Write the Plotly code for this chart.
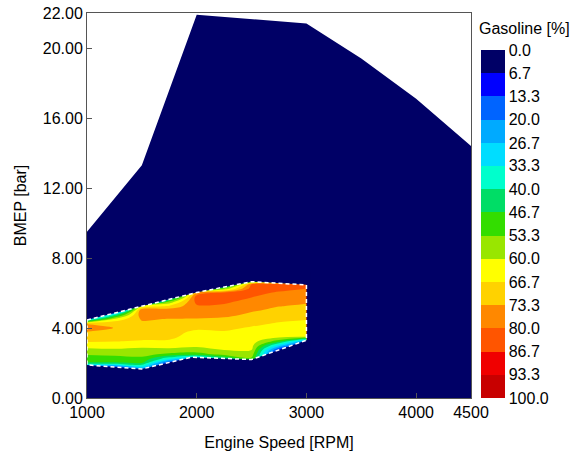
import plotly.graph_objects as go

# ---------------- data ----------------
# full-load (maximum BMEP) curve
fl_rpm = [1000, 1500, 2000, 3000, 3500, 4000, 4500]
fl_bmep = [9.5, 13.3, 21.9, 21.4, 19.4, 17.1, 14.4]

# measured dual-fuel region boundary
region_top_rpm = [1000, 2000, 2500, 3000]
region_top_bmep = [4.46, 6.03, 6.65, 6.46]
region_bottom_rpm = [1000, 1500, 1950, 2500, 3000]
region_bottom_bmep = [1.89, 1.66, 2.33, 2.2, 3.3]

# gasoline fraction grid [%]
grid_rpm = [1000, 1250, 1500, 1750, 2000, 2250, 2500, 2750, 3000]
grid_bmep = [1.5, 1.75, 2.0, 2.25, 2.5, 2.75, 3.0, 3.25, 3.5, 3.75, 4.0, 4.25,
             4.5, 4.75, 5.0, 5.25, 5.5, 5.75, 6.0, 6.25, 6.5, 6.75, 7.0]
gasoline = [
    [0, 0, 0, 0, 0, 0, 0, 0, 0],
    [10, 10, 30, 0, 0, 0, 0, 0, 0],
    [46, 46, 47, 10, 0, 0, 30, 0, 0],
    [50, 50, 52, 35, 20, 40, 52, 0, 0],
    [54, 55, 55, 52, 50, 56, 57, 0, 0],
    [58, 59, 58, 58, 58, 60, 60, 10, 0],
    [63, 63, 62, 63, 61, 62, 62, 30, 0],
    [67.5, 67, 66, 66, 63, 63, 63, 50, 20],
    [70, 69, 69, 68, 64, 64, 64, 62, 61],
    [72, 71, 70, 69, 65, 66, 65, 63, 62],
    [80.5, 73, 71, 70, 68, 68, 66, 64, 63],
    [72, 72, 72, 71, 71, 70, 68, 66, 65],
    [30, 62, 74, 73, 73, 72, 70, 68, 67],
    [0, 40, 78, 76, 75, 75, 72, 70, 69],
    [0, 0, 80, 78, 77, 77, 74, 72, 71],
    [0, 0, 60, 68, 79, 79, 76, 73.5, 72.5],
    [0, 0, 0, 55, 82, 81, 78, 75, 74],
    [0, 0, 0, 30, 84, 83, 80, 77, 76],
    [0, 0, 0, 0, 76, 84, 82, 79, 78],
    [0, 0, 0, 0, 30, 55, 83, 82, 80],
    [0, 0, 0, 0, 0, 20, 80, 82, 81],
    [0, 0, 0, 0, 0, 0, 30, 40, 40],
    [0, 0, 0, 0, 0, 0, 0, 0, 0],
]

level_labels = ["0.0", "6.7", "13.3", "20.0", "26.7", "33.3", "40.0", "46.7",
                "53.3", "60.0", "66.7", "73.3", "80.0", "86.7", "93.3", "100.0"]
band_colors = ["#000066", "#0000ff", "#0064ff", "#00aaff", "#00ddff", "#00ffcc",
               "#00dd66", "#33dd00", "#99e600", "#ffff00", "#ffd200", "#ff8800",
               "#ff5500", "#f00000", "#c80000"]   # 0 -> 100 %

# ---------------- figure ----------------
NAVY = band_colors[0]
FONT = "Liberation Sans, Arial, sans-serif"
step = 100.0 / 15

# colours: negated values so 0 % sits at top of colourbar
cs_colors = list(reversed(band_colors))
n = len(cs_colors)
colorscale = [[i / (n - 1), c] for i, c in enumerate(cs_colors)]
stepped = []
for i, c in enumerate(cs_colors):
    stepped.append([i / n, c])
    stepped.append([(i + 1) / n, c])

neg_z = [[-v for v in row] for row in gasoline]

fig = go.Figure()

fig.add_trace(go.Contour(
    x=grid_rpm, y=grid_bmep, z=neg_z,
    colorscale=colorscale, showscale=False,
    contours=dict(start=-100 + step, end=-step, size=step,
                  coloring="fill", showlines=False),
    line=dict(width=0),
    hoverinfo="skip",
))

pad_y = 0.2
pad_x = 40
top_x = region_top_rpm + [region_top_rpm[-1] + pad_x, region_top_rpm[-1] + pad_x,
                          region_top_rpm[0] - pad_x, region_top_rpm[0] - pad_x]
top_y = region_top_bmep + [region_top_bmep[-1], max(grid_bmep) + pad_y,
                           max(grid_bmep) + pad_y, region_top_bmep[0]]
bot_x = region_bottom_rpm + [region_bottom_rpm[-1] + pad_x, region_bottom_rpm[-1] + pad_x,
                             region_bottom_rpm[0] - pad_x, region_bottom_rpm[0] - pad_x]
bot_y = region_bottom_bmep + [region_bottom_bmep[-1], min(grid_bmep) - pad_y,
                              min(grid_bmep) - pad_y, region_bottom_bmep[0]]
for mx, my in ((top_x, top_y), (bot_x, bot_y)):
    fig.add_trace(go.Scatter(x=mx, y=my, fill="toself", fillcolor=NAVY,
                             mode="lines", line=dict(width=0, color=NAVY),
                             showlegend=False, hoverinfo="skip"))

bx = region_top_rpm + list(reversed(region_bottom_rpm)) + [region_top_rpm[0]]
by = region_top_bmep + list(reversed(region_bottom_bmep)) + [region_top_bmep[0]]
fig.add_trace(go.Scatter(x=bx, y=by, mode="lines",
                         line=dict(color="white", width=1.5, dash="4px,3px"),
                         showlegend=False, hoverinfo="skip"))

# colourbar carrier (invisible point)
fig.add_trace(go.Scatter(
    x=[grid_rpm[0]], y=[grid_bmep[0]], mode="markers",
    marker=dict(size=1, opacity=0, color=[-50], cmin=-100, cmax=0,
                colorscale=stepped, showscale=True,
                colorbar=dict(
                    x=1.026, xanchor="left", xpad=0,
                    y=0, yanchor="bottom", ypad=0,
                    len=0.904, lenmode="fraction",
                    thickness=24, outlinewidth=0,
                    tickmode="array",
                    tickvals=[-float(l) for l in level_labels],
                    ticktext=level_labels,
                    ticks="", ticklen=0,
                    tickfont=dict(size=16, color="#000", family=FONT),
                )),
    showlegend=False, hoverinfo="skip",
))

# full-load area as a shape below traces
path = "M {},0 ".format(fl_rpm[0])
path += " ".join("L {},{}".format(x, y) for x, y in zip(fl_rpm, fl_bmep))
path += " L {},0 Z".format(fl_rpm[-1])
fig.add_shape(type="path", path=path, fillcolor=NAVY, line=dict(width=0),
              layer="below", xref="x", yref="y")

axis_common = dict(showgrid=False, zeroline=False, showline=True,
                   linecolor="#555555", linewidth=1, mirror=True,
                   ticks="inside", ticklen=5, tickcolor="#555555",
                   tickfont=dict(size=16, color="#000", family=FONT),
                   automargin=False)

fig.update_layout(
    width=571, height=455,
    margin=dict(l=87, r=100, t=13, b=57, autoexpand=False),
    paper_bgcolor="white", plot_bgcolor="white",
    showlegend=False,
    font=dict(family=FONT, size=16, color="#000"),
    xaxis=dict(range=[1000, 4500], tickmode="array",
               tickvals=[1000, 2000, 3000, 4000, 4500],
               title=dict(text="Engine Speed [RPM]", standoff=16,
                          font=dict(size=16, color="#000", family=FONT)),
               **axis_common),
    yaxis=dict(range=[0, 22], tickmode="array",
               tickvals=[0, 4, 8, 12, 16, 20, 22],
               ticktext=["0.00", "4.00", "8.00", "12.00", "16.00", "20.00", "22.00"],
               title=dict(text="BMEP [bar]", standoff=12,
                          font=dict(size=16, color="#000", family=FONT)),
               **axis_common),
    annotations=[dict(text="Gasoline [%]", xref="paper", yref="paper",
                      x=1.0156, y=0.961, xanchor="left", yanchor="middle",
                      showarrow=False,
                      font=dict(size=16, color="#000", family=FONT))],
)

fig.write_html("out.html")
